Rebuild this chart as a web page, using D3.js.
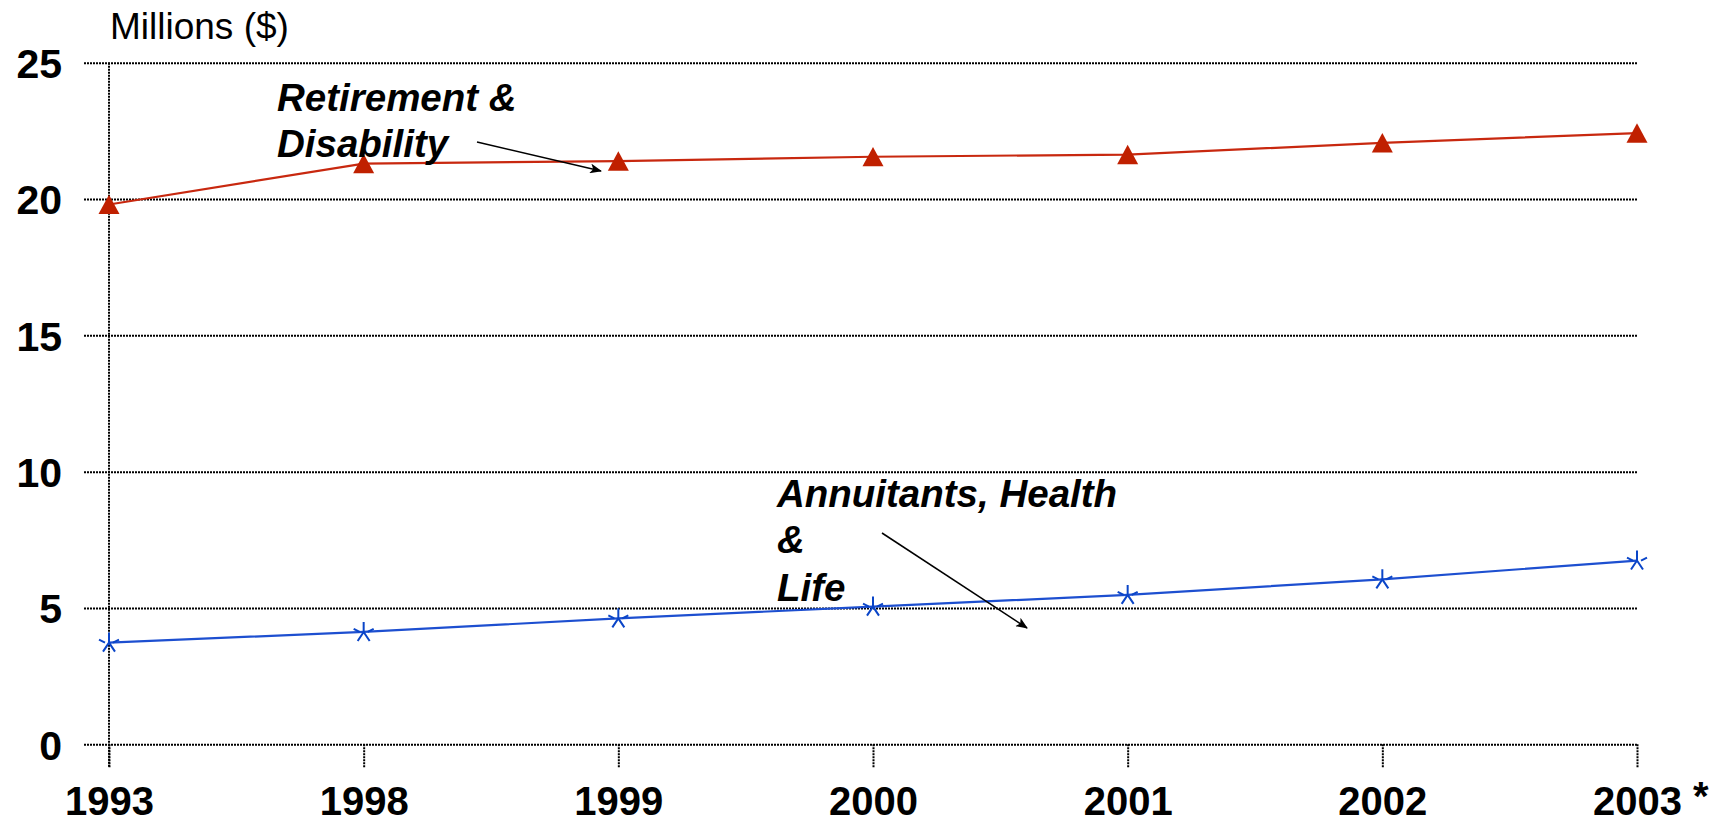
<!DOCTYPE html>
<html>
<head>
<meta charset="utf-8">
<script src="https://cdn.jsdelivr.net/npm/d3@7"></script>
<style>
  html, body { margin: 0; padding: 0; background: #fff; }
  svg { display: block; }
  text { font-family: "Liberation Sans", Arial, sans-serif; }
</style>
</head>
<body>
<svg id="chart" width="1720" height="824"></svg>
<script>
const years = ["1993", "1998", "1999", "2000", "2001", "2002", "2003"];
const retirementDisability = [19.8, 21.3, 21.39, 21.55, 21.63, 22.06, 22.42];
const annuitantsHealthLife = [3.73, 4.12, 4.62, 5.05, 5.48, 6.05, 6.74];
const yTicks = [0, 5, 10, 15, 20, 25];

const svg = d3.select("#chart");
const x = d3.scalePoint().domain(years).range([109, 1637]);
const y = d3.scaleLinear().domain([0, 25]).range([744.3, 62.7]);
const gridLeft = 84;
const dash = "2,1";

// Y axis with gridlines
const yAxis = svg.append("g")
  .attr("transform", `translate(${gridLeft},0)`)
  .call(d3.axisLeft(y).tickValues(yTicks).tickSize(-(x("2003") - gridLeft)).tickPadding(22).tickFormat(d3.format("d")));
yAxis.select(".domain").remove();
yAxis.selectAll(".tick line")
  .attr("stroke", "#000").attr("stroke-width", 2).attr("stroke-dasharray", dash);
yAxis.selectAll(".tick text")
  .attr("fill", "#000").style("font-size", "41px").style("font-weight", "bold")
  .attr("dy", "0.36em");

// X axis ticks + labels
const xAxis = svg.append("g")
  .attr("transform", `translate(0,${y(0)})`)
  .call(d3.axisBottom(x).tickSize(23).tickPadding(19));
xAxis.select(".domain").remove();
xAxis.selectAll(".tick line")
  .attr("stroke", "#000").attr("stroke-width", 2).attr("stroke-dasharray", dash);
xAxis.selectAll(".tick text")
  .attr("fill", "#000").style("font-size", "40px").style("font-weight", "bold");

// vertical value axis line at the first category
svg.append("line")
  .attr("x1", x("1993")).attr("x2", x("1993"))
  .attr("y1", y(25)).attr("y2", y(0) + 23)
  .attr("stroke", "#000").attr("stroke-width", 2).attr("stroke-dasharray", dash);

// asterisk
svg.append("text").attr("x", 1693).attr("y", 810)
  .style("font-size", "40px").style("font-weight", "bold").text("*");

// unit label
svg.append("text").attr("x", 110).attr("y", 39)
  .style("font-size", "37px").text("Millions ($)");

// lines
const line = d3.line().x((d, i) => x(years[i])).y(d => y(d));

svg.append("path").datum(retirementDisability)
  .attr("d", line).attr("fill", "none")
  .attr("stroke", "#c8280f").attr("stroke-width", 2.2);

svg.append("path").datum(annuitantsHealthLife)
  .attr("d", line).attr("fill", "none")
  .attr("stroke", "#1d4fd0").attr("stroke-width", 2.2);

// triangle markers
svg.selectAll(".tri").data(retirementDisability).enter().append("path")
  .attr("class", "tri")
  .attr("transform", (d, i) => `translate(${x(years[i])},${y(d)})`)
  .attr("d", "M0,-9.8L10.5,9.6L-10.5,9.6Z")
  .attr("fill", "#c02000");

// star markers
svg.selectAll(".star").data(annuitantsHealthLife).enter().append("path")
  .attr("class", "star")
  .attr("transform", (d, i) => `translate(${x(years[i])},${y(d)})`)
  .attr("d", "M0,-10L0,0M0,0L-6,9M0,0L6,9M-10,-3L-4,0M10,-3L4,0")
  .attr("fill", "none").attr("stroke", "#0a45c8").attr("stroke-width", 2);

// annotations
const defs = svg.append("defs");
defs.append("marker").attr("id", "arrow")
  .attr("viewBox", "0 0 12 10").attr("refX", 11).attr("refY", 5)
  .attr("markerWidth", 12).attr("markerHeight", 10).attr("markerUnits", "userSpaceOnUse")
  .attr("orient", "auto")
  .append("path").attr("d", "M0,0L12,5L0,10L3,5Z").attr("fill", "#000");

const ann = svg.append("g").style("font-size", "38.5px").style("font-weight", "bold").style("font-style", "italic");
ann.append("text").attr("x", 277).attr("y", 111).text("Retirement &");
ann.append("text").attr("x", 277).attr("y", 157).text("Disability");
ann.append("text").attr("x", 777).attr("y", 507).text("Annuitants, Health");
ann.append("text").attr("x", 777).attr("y", 553).text("&");
ann.append("text").attr("x", 777).attr("y", 601).text("Life");

svg.append("line").attr("x1", 477).attr("y1", 142).attr("x2", 601).attr("y2", 171)
  .attr("stroke", "#000").attr("stroke-width", 1.5).attr("marker-end", "url(#arrow)");
svg.append("line").attr("x1", 882).attr("y1", 533).attr("x2", 1027).attr("y2", 628)
  .attr("stroke", "#000").attr("stroke-width", 1.5).attr("marker-end", "url(#arrow)");
</script>
</body>
</html>
